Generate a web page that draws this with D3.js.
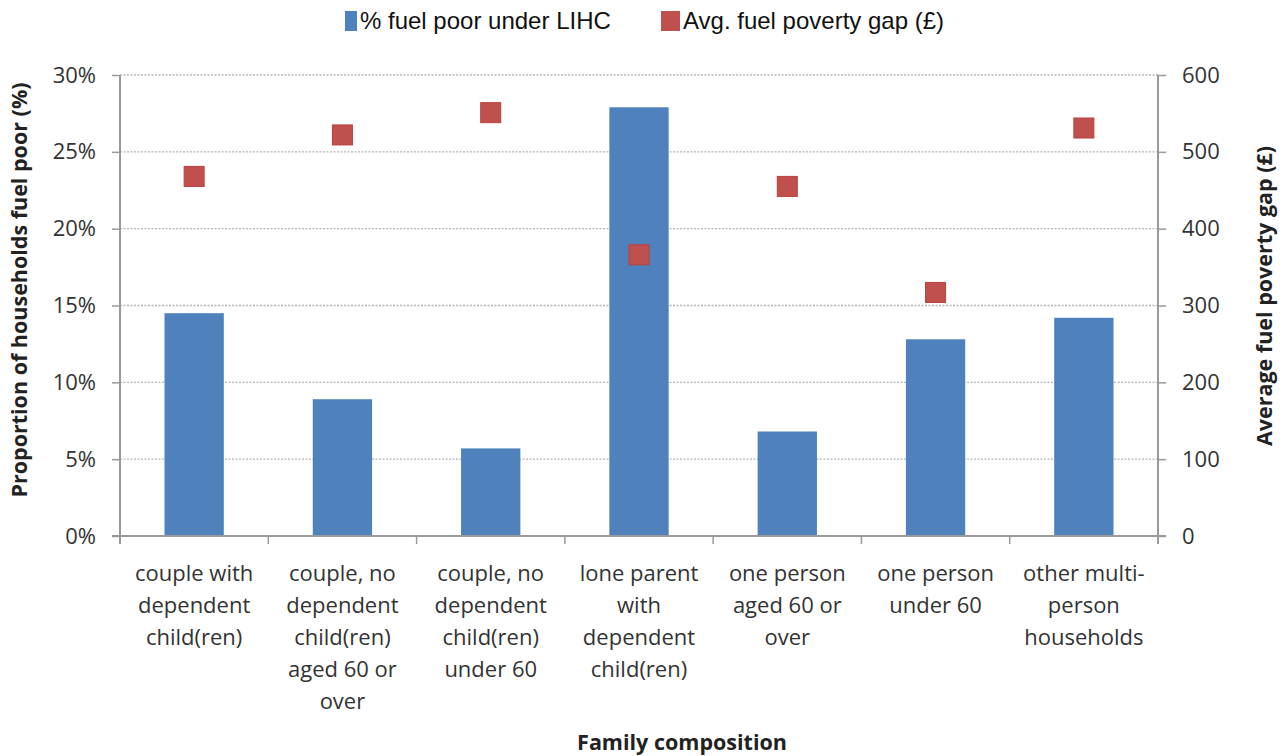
<!DOCTYPE html>
<html>
<head>
<meta charset="utf-8">
<script src="https://cdn.jsdelivr.net/npm/d3@7"></script>
<style>
  body { margin: 0; background: #fff; }
  svg { display: block; }
</style>
</head>
<body>
<svg id="chart" width="1287" height="756"></svg>
<script>
// Family composition categories (each entry is the wrapped label lines)
const categories = [
  ["couple with", "dependent", "child(ren)"],
  ["couple, no", "dependent", "child(ren)", "aged 60 or", "over"],
  ["couple, no", "dependent", "child(ren)", "under 60"],
  ["lone parent", "with", "dependent", "child(ren)"],
  ["one person", "aged 60 or", "over"],
  ["one person", "under 60"],
  ["other multi-", "person", "households"]
];
// % of households fuel poor under LIHC
const pctFuelPoor = [14.5, 8.9, 5.7, 27.9, 6.8, 12.8, 14.2];
// Average fuel poverty gap (£)
const avgGap = [468, 522, 551, 366, 455, 317, 531];

const leftTicks = [0, 5, 10, 15, 20, 25, 30];
const rightTicks = [0, 100, 200, 300, 400, 500, 600];

const svg = d3.select("#chart");
const plot = { left: 120, right: 1158, top: 75, bottom: 536 };
const tickFont = "'Open Sans', Lato, sans-serif";

const x = d3.scaleBand()
  .domain(d3.range(categories.length))
  .range([plot.left, plot.right])
  .paddingInner(0.6).paddingOuter(0.3);
const xOuter = d3.scaleBand()
  .domain(d3.range(categories.length))
  .range([plot.left, plot.right]);
const yL = d3.scaleLinear().domain([0, 30]).range([plot.bottom, plot.top]);
const yR = d3.scaleLinear().domain([0, 600]).range([plot.bottom, plot.top]);

// gridlines
svg.append("g")
  .selectAll("line")
  .data(leftTicks.filter(d => d > 0))
  .join("line")
  .attr("x1", plot.left).attr("x2", plot.right)
  .attr("y1", d => yL(d)).attr("y2", d => yL(d))
  .attr("stroke", "#b5b5b5").attr("stroke-width", 1.3)
  .attr("stroke-dasharray", "2,1.5");

// bars
svg.append("g")
  .selectAll("rect")
  .data(pctFuelPoor)
  .join("rect")
  .attr("x", (d, i) => x(i))
  .attr("width", x.bandwidth())
  .attr("y", d => yL(d))
  .attr("height", d => plot.bottom - yL(d))
  .attr("fill", "#4f81bd");

// squares for fuel poverty gap
const sq = 20;
svg.append("g")
  .selectAll("rect")
  .data(avgGap)
  .join("rect")
  .attr("x", (d, i) => x(i) + x.bandwidth() / 2 - sq / 2)
  .attr("y", d => yR(d) - sq / 2)
  .attr("width", sq).attr("height", sq)
  .attr("fill", "#c0504d")
  .attr("stroke", "#b8403d").attr("stroke-width", 1);

// left axis
const leftAxis = d3.axisLeft(yL).tickValues(leftTicks)
  .tickFormat(d => d + "%").tickSize(8).tickPadding(16);
const gL = svg.append("g").attr("transform", `translate(${plot.left},0)`).call(leftAxis);

// right axis
const rightAxis = d3.axisRight(yR).tickValues(rightTicks)
  .tickSize(8).tickPadding(16);
const gR = svg.append("g").attr("transform", `translate(${plot.right},0)`).call(rightAxis);

// bottom axis: ticks at category boundaries
const boundaries = d3.range(categories.length + 1).map(i =>
  i < categories.length ? xOuter(i) : plot.right);
const gB = svg.append("g");
gB.append("line")
  .attr("x1", plot.left - 8).attr("x2", plot.right + 8)
  .attr("y1", plot.bottom).attr("y2", plot.bottom)
  .attr("stroke", "#9a9a9a").attr("stroke-width", 2);
gB.selectAll("line.tk")
  .data(boundaries)
  .join("line").attr("class", "tk")
  .attr("x1", d => d).attr("x2", d => d)
  .attr("y1", plot.bottom).attr("y2", plot.bottom + 8)
  .attr("stroke", "#9a9a9a").attr("stroke-width", 1.5);

[gL, gR].forEach(g => {
  g.select(".domain").attr("stroke", "#9a9a9a").attr("stroke-width", 2);
  g.selectAll(".tick line").attr("stroke", "#9a9a9a").attr("stroke-width", 1.5);
  g.selectAll(".tick text")
    .attr("font-family", tickFont).attr("font-size", 22)
    .attr("fill", "#333");
});
gL.select(".domain").attr("d", `M0,${plot.top}V${plot.bottom + 8}`);
gR.select(".domain").attr("d", `M0,${plot.top}V${plot.bottom + 8}`);

// category labels
const catG = svg.append("g");
categories.forEach((lines, i) => {
  const cx = xOuter(i) + xOuter.bandwidth() / 2;
  const t = catG.append("text")
    .attr("text-anchor", "middle")
    .attr("font-family", tickFont).attr("font-size", 22)
    .attr("fill", "#333");
  lines.forEach((ln, j) => {
    t.append("tspan").attr("x", cx).attr("y", 581 + j * 32).text(ln);
  });
});

// axis titles
svg.append("text")
  .attr("transform", "translate(27,290) rotate(-90)")
  .attr("text-anchor", "middle")
  .attr("font-family", tickFont).attr("font-size", 21.5).attr("font-weight", "bold")
  .attr("fill", "#222")
  .text("Proportion of households fuel poor (%)");
svg.append("text")
  .attr("transform", "translate(1272,296) rotate(-90)")
  .attr("text-anchor", "middle")
  .attr("font-family", tickFont).attr("font-size", 21.5).attr("font-weight", "bold")
  .attr("fill", "#222")
  .text("Average fuel poverty gap (£)");
svg.append("text")
  .attr("x", 682).attr("y", 750)
  .attr("text-anchor", "middle")
  .attr("font-family", tickFont).attr("font-size", 21.5).attr("font-weight", "bold")
  .attr("fill", "#222")
  .text("Family composition");

// legend
const legend = [
  { label: "% fuel poor under LIHC", color: "#4f81bd", x: 345, w: 12 },
  { label: "Avg. fuel poverty gap (£)", color: "#c0504d", x: 661, w: 19 }
];
const lg = svg.append("g");
legend.forEach(l => {
  lg.append("rect").attr("x", l.x).attr("y", 11).attr("width", l.w).attr("height", 20)
    .attr("fill", l.color);
  lg.append("text").attr("x", l.x + l.w + 3).attr("y", 29)
    .attr("font-family", "'Liberation Sans', Arial, sans-serif").attr("font-size", 24)
    .attr("fill", "#111")
    .text(l.label);
});
</script>
</body>
</html>
